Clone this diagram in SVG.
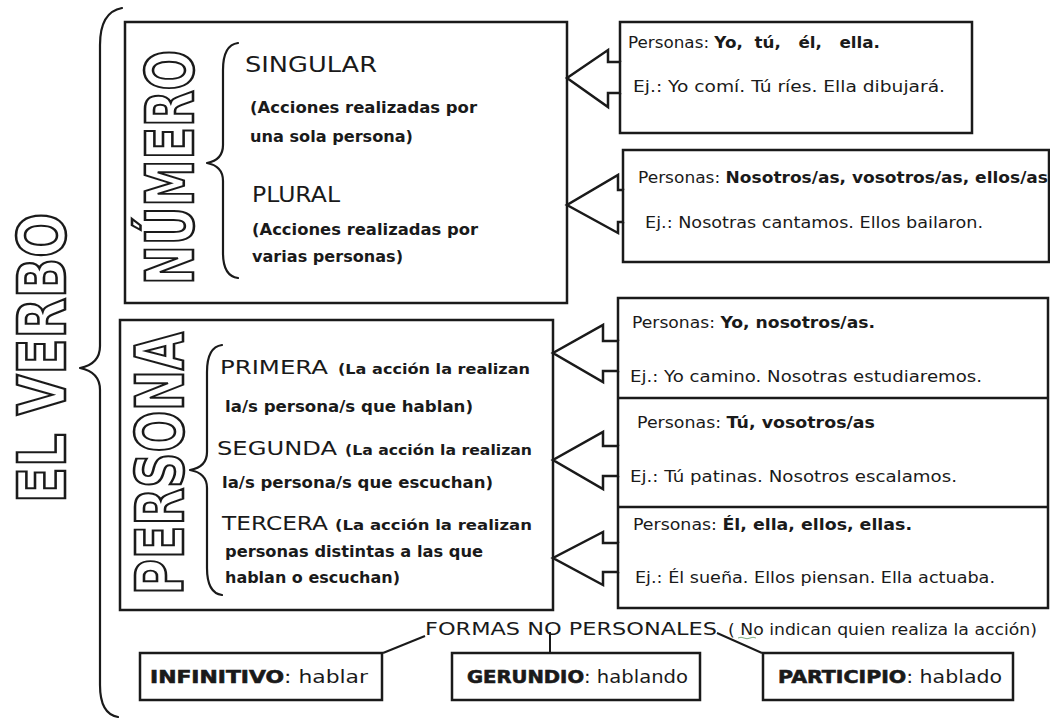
<svg xmlns="http://www.w3.org/2000/svg" width="1050" height="721" viewBox="0 0 1050 721">
<style>
  text { font-family: "DejaVu Sans", "Liberation Sans", sans-serif; fill: #1a1a1a; }
  .box { fill: none; stroke: #1a1a1a; stroke-width: 2.5; }
  .line { fill: none; stroke: #1a1a1a; stroke-width: 2; }
  .brace { fill: none; stroke: #1a1a1a; stroke-width: 2.2; stroke-linecap: round; stroke-linejoin: round; }
  .arrow { fill: #ffffff; stroke: #1a1a1a; stroke-width: 2.5; stroke-linejoin: miter; }
  .outline { font-family: "DejaVu Sans", sans-serif; font-weight: bold; fill: #ffffff; stroke: #1a1a1a; stroke-width: 2.6; }
  .head { font-size: 21px; }
  .sub { font-size: 16px; font-weight: bold; }
  .p { font-size: 15px; }
  .b { font-weight: bold; }
  .pre { white-space: pre; }
  .bold2 { font-weight: bold; stroke: #1a1a1a; stroke-width: 0.6; }
</style>
<rect width="1050" height="721" fill="#ffffff"/>

<g id="el-verbo">
  <text class="outline" font-size="66" transform="translate(65,503) rotate(-90)" textLength="290" lengthAdjust="spacingAndGlyphs">EL VERBO</text>
  <path class="brace" d="M122,8 Q100,12 100,45 L100,346 Q100,364 80,368 Q100,372 100,390 L100,685 Q100,714 118,717"/>
</g>

<g id="numero">
  <rect class="box" x="125" y="22" width="442" height="281"/>
  <text class="outline" font-size="66" transform="translate(193,285) rotate(-90)" textLength="235" lengthAdjust="spacingAndGlyphs">NÚMERO</text>
  <path class="brace" d="M238,43 Q223,45 223,70 L223,145 Q223,160 207,163 Q223,166 223,181 L223,253 Q223,276 238,278"/>
  <text class="head" x="245" y="72" textLength="132" lengthAdjust="spacingAndGlyphs">SINGULAR</text>
  <text class="sub" x="250" y="113" textLength="227" lengthAdjust="spacingAndGlyphs">(Acciones realizadas por</text>
  <text class="sub" x="250" y="142" textLength="163" lengthAdjust="spacingAndGlyphs">una sola persona)</text>
  <text class="head" x="252" y="202" textLength="88" lengthAdjust="spacingAndGlyphs">PLURAL</text>
  <text class="sub" x="252" y="235" textLength="226" lengthAdjust="spacingAndGlyphs">(Acciones realizadas por</text>
  <text class="sub" x="252" y="262" textLength="151" lengthAdjust="spacingAndGlyphs">varias personas)</text>
</g>

<g id="singular-box">
  <path class="box" d="M620,62 L620,22 L972,22 L972,133 L620,133 L620,93"/>
  <text class="p pre" x="628" y="48" textLength="252" lengthAdjust="spacingAndGlyphs">Personas: <tspan class="b">Yo,  tú,   él,   ella.</tspan></text>
  <text class="p" x="633" y="92" textLength="312" lengthAdjust="spacingAndGlyphs">Ej.: Yo comí. Tú ríes. Ella dibujará.</text>
</g>

<g id="plural-box">
  <path class="box" d="M623,190 L623,150 L1049,150 L1049,262 L623,262 L623,222"/>
  <text class="p" x="638" y="183" textLength="410" lengthAdjust="spacingAndGlyphs">Personas: <tspan class="b">Nosotros/as, vosotros/as, ellos/as</tspan></text>
  <text class="p" x="645" y="228" textLength="338" lengthAdjust="spacingAndGlyphs">Ej.: Nosotras cantamos. Ellos bailaron.</text>
</g>

<g id="persona">
  <rect class="box" x="120" y="320" width="433" height="290"/>
  <text class="outline" font-size="66" transform="translate(183,595) rotate(-90)" textLength="263" lengthAdjust="spacingAndGlyphs">PERSONA</text>
  <path class="brace" d="M222,345 Q207,347 207,372 L207,452 Q207,467 190,470 Q207,473 207,488 L207,568 Q207,593 222,595"/>
  <text x="220" y="374" font-size="19" textLength="108" lengthAdjust="spacingAndGlyphs">PRIMERA</text>
  <text class="sub" x="338" y="374" textLength="192" lengthAdjust="spacingAndGlyphs" style="font-size:14px">(La acción la realizan</text>
  <text class="sub" x="225" y="412" textLength="248" lengthAdjust="spacingAndGlyphs" style="font-size:15px">la/s persona/s que hablan)</text>
  <text x="217" y="455" font-size="19" textLength="120" lengthAdjust="spacingAndGlyphs">SEGUNDA</text>
  <text class="sub" x="345" y="455" textLength="187" lengthAdjust="spacingAndGlyphs" style="font-size:14px">(La acción la realizan</text>
  <text class="sub" x="222" y="488" textLength="271" lengthAdjust="spacingAndGlyphs" style="font-size:15px">la/s persona/s que escuchan)</text>
  <text x="222" y="530" font-size="19" textLength="106" lengthAdjust="spacingAndGlyphs">TERCERA</text>
  <text class="sub" x="335" y="530" textLength="197" lengthAdjust="spacingAndGlyphs" style="font-size:14px">(La acción la realizan</text>
  <text class="sub" x="225" y="557" textLength="258" lengthAdjust="spacingAndGlyphs" style="font-size:15px">personas distintas a las que</text>
  <text class="sub" x="225" y="583" textLength="175" lengthAdjust="spacingAndGlyphs" style="font-size:15px">hablan o escuchan)</text>
</g>

<g id="persona-boxes">
  <path class="box" d="M618,341 L618,298 L1048,298 L1048,608 L618,608 L618,572 M618,543 L618,476 M618,446 L618,371"/>
  <line class="box" x1="618" y1="398" x2="1048" y2="398"/>
  <line class="box" x1="618" y1="507" x2="1048" y2="507"/>
  <text class="p" x="632" y="328" textLength="243" lengthAdjust="spacingAndGlyphs">Personas: <tspan class="b">Yo, nosotros/as.</tspan></text>
  <text class="p" x="630" y="382" textLength="352" lengthAdjust="spacingAndGlyphs">Ej.: Yo camino. Nosotras estudiaremos.</text>
  <text class="p" x="637" y="428" textLength="238" lengthAdjust="spacingAndGlyphs">Personas: <tspan class="b">Tú, vosotros/as</tspan></text>
  <text class="p" x="630" y="482" textLength="327" lengthAdjust="spacingAndGlyphs">Ej.: Tú patinas. Nosotros escalamos.</text>
  <text class="p" x="633" y="530" textLength="279" lengthAdjust="spacingAndGlyphs">Personas: <tspan class="b">Él, ella, ellos, ellas.</tspan></text>
  <text class="p" x="635" y="583" textLength="360" lengthAdjust="spacingAndGlyphs">Ej.: Él sueña. Ellos piensan. Ella actuaba.</text>
</g>

<g id="formas-no-personales">
  <text x="425" y="635" font-size="18" textLength="292" lengthAdjust="spacingAndGlyphs">FORMAS NO PERSONALES</text>
  <text x="728" y="635" font-size="15" textLength="309" lengthAdjust="spacingAndGlyphs">( No indican quien realiza la acción)</text>
  <path d="M738,638 q3,-1.5 6,0 t6,0 t6,0" fill="none" stroke="#7fae7f" stroke-width="1"/>
</g>

<g id="infinitivo">
  <rect class="box" x="140" y="653" width="242" height="47"/>
  <text x="150" y="683" font-size="17" textLength="218" lengthAdjust="spacingAndGlyphs"><tspan class="bold2">INFINITIVO</tspan>: hablar</text>
</g>
<g id="gerundio">
  <rect class="box" x="452" y="653" width="248" height="47"/>
  <text x="467" y="683" font-size="17" textLength="221" lengthAdjust="spacingAndGlyphs"><tspan class="bold2">GERUNDIO</tspan>: hablando</text>
</g>
<g id="participio">
  <rect class="box" x="763" y="653" width="250" height="47"/>
  <text x="778" y="683" font-size="17" textLength="224" lengthAdjust="spacingAndGlyphs"><tspan class="bold2">PARTICIPIO</tspan>: hablado</text>
</g>

<g id="connectors">
  <polygon class="arrow" points="620,62 608,62 608,50 567,78 608,107 608,93 620,93"/>
  <polygon class="arrow" points="623,190 618,190 618,175 567,205 618,233 618,222 623,222"/>
  <polygon class="arrow" points="618,341 603,341 603,325 553,353 603,382 603,371 618,371"/>
  <polygon class="arrow" points="618,446 603,446 603,432 553,460 603,489 603,476 618,476"/>
  <polygon class="arrow" points="618,543 603,543 603,532 553,558 603,585 603,572 618,572"/>
  <line class="line" x1="383" y1="653" x2="425" y2="636"/>
  <line class="line" x1="550" y1="632" x2="550" y2="653"/>
  <line class="line" x1="717" y1="633" x2="762" y2="653"/>
</g>
</svg>
